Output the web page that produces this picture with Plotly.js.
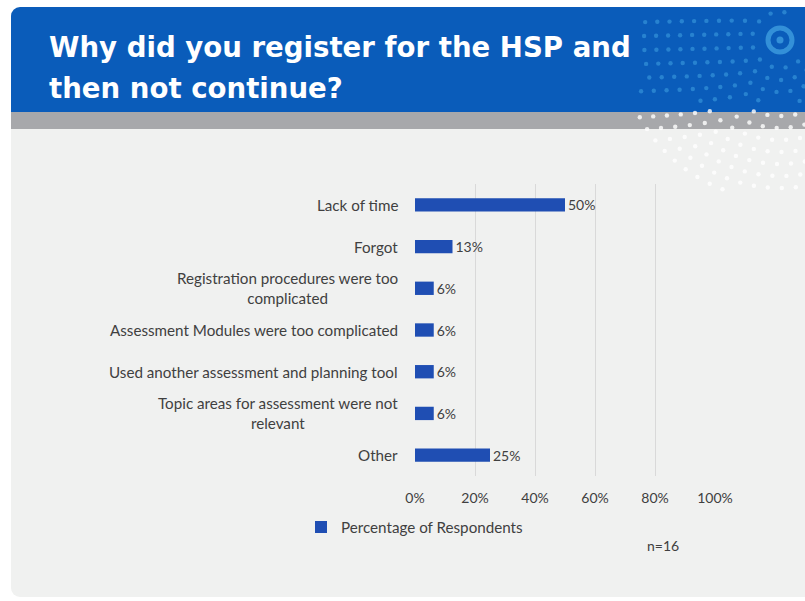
<!DOCTYPE html>
<html>
<head>
<meta charset="utf-8">
<script src="https://cdn.plot.ly/plotly-3.0.1.min.js"></script>
<style>
  html, body { margin: 0; padding: 0; background: #ffffff; }
  #stage { position: relative; width: 805px; height: 601px; overflow: hidden; }
  #panel { position: absolute; left: 11px; top: 7px; width: 820px; height: 590px;
           background: #f0f1f0; border-radius: 9px 0 0 9px; overflow: hidden; }
  #blue { position: absolute; left: 0; top: 0; width: 100%; height: 105px; background: #0a5cba; }
  #gray { position: absolute; left: 0; top: 105px; width: 100%; height: 17px; background: #a7a8ab; }
  #deco { position: absolute; left: 0; top: 0; }
  #chart { position: absolute; left: 0; top: 0; width: 805px; height: 601px; }
</style>
</head>
<body>
<div id="stage">
  <div id="panel"><div id="blue"></div><div id="gray"></div></div>
  <svg id="deco" width="805" height="601"></svg>
  <div id="chart"></div>
</div>
<script>
// ---- data ----
const categories = [
  "Lack of time",
  "Forgot",
  "Registration procedures were too<br>complicated",
  "Assessment Modules were too complicated",
  "Used another assessment and planning tool",
  "Topic areas for assessment were not<br>relevant",
  "Other"
];
const percentValues = [50, 12.5, 6.25, 6.25, 6.25, 6.25, 25];
const valueLabels = ["50%", "13%", "6%", "6%", "6%", "6%", "25%"];
const xTickValues = [0, 20, 40, 60, 80, 100];
const xTickLabels = ["0%", "20%", "40%", "60%", "80%", "100%"];
const seriesName = "Percentage of Respondents";
const titleLines = ["Why did you register for the HSP and", "then not continue?"];
const noteText = "n=16";

// ---- decorative dotted sunburst (background ornament) ----
(function () {
  const svg = document.getElementById('deco');
  const cx = 780, cy = 40;
  let html = '';
  for (let ring = 0; ring < 12; ring++) {
    const r = 28 + ring * 12;
    const step = 14 / r;               // roughly constant dot spacing along the arc
    const offset = (ring % 2) * step / 2;
    for (let a = Math.PI * 0.45 + offset; a < Math.PI * 1.75; a += step) {
      const x = cx + r * Math.cos(a);
      const y = cy - r * Math.sin(a);
      if (x < 638 || y < 10 || y > 192) continue;
      if (y > 101 && y < 109) continue;
      const fill = y < 105 ? 'rgba(55,150,220,0.65)' : 'rgba(255,255,255,0.8)';
      html += '<circle cx="' + x.toFixed(1) + '" cy="' + y.toFixed(1) + '" r="2.2" fill="' + fill + '"/>';
    }
  }
  html += '<circle cx="' + cx + '" cy="' + cy + '" r="12" fill="none" stroke="rgba(55,150,220,0.9)" stroke-width="5"/>';
  html += '<circle cx="' + cx + '" cy="' + cy + '" r="3.5" fill="rgba(55,150,220,0.9)"/>';
  svg.innerHTML = html;
})();

// ---- chart ----
const L = 415, R = 715, T = 184, B = 476;
const W = 805, H = 601;
const px2x = p => (p - L) / (R - L);
const px2y = p => (B - p) / (B - T);

const fam = "Lato, 'Open Sans', sans-serif";
const numFont = { family: fam, size: 14, color: '#404040' };
const catFont = { family: fam, size: 15.2, color: '#404040' };

const trace = {
  type: 'bar',
  orientation: 'h',
  x: percentValues,
  y: categories,
  name: seriesName,
  text: valueLabels,
  textposition: 'outside',
  constraintext: 'none',
  cliponaxis: false,
  textfont: numFont,
  marker: { color: '#1f4eb3', line: { width: 0 } },
  hoverinfo: 'skip',
  showlegend: true
};

const annotations = categories.map(c => ({
  xref: 'paper', yref: 'y', x: px2x(400), y: c,
  xanchor: 'right', yanchor: 'middle', align: 'center',
  text: c, showarrow: false, font: catFont
}));

const titleY = [48, 88];
titleLines.forEach((t, i) => annotations.push({
  xref: 'paper', yref: 'paper', x: px2x(47), y: px2y(titleY[i]),
  xanchor: 'left', yanchor: 'middle', align: 'left',
  text: '<b>' + t + '</b>', showarrow: false,
  font: { family: "'DejaVu Sans', Arial, sans-serif", size: 27.6, color: '#ffffff' }
}));
annotations.push({
  xref: 'paper', yref: 'paper', x: px2x(645), y: px2y(545),
  xanchor: 'left', yanchor: 'middle',
  text: noteText, showarrow: false, font: numFont
});

const layout = {
  width: W, height: H,
  margin: { l: L, r: W - R, t: T, b: H - B, pad: 0 },
  paper_bgcolor: 'rgba(0,0,0,0)',
  plot_bgcolor: 'rgba(0,0,0,0)',
  bargap: 0.68,
  showlegend: true,
  legend: {
    orientation: 'h', x: px2x(301), y: px2y(527), xanchor: 'left', yanchor: 'middle',
    bgcolor: 'rgba(0,0,0,0)', font: catFont, itemwidth: 30
  },
  xaxis: {
    range: [0, 100], tickvals: xTickValues, ticktext: xTickLabels,
    showgrid: true, gridcolor: '#d9d9d9', gridwidth: 1,
    zeroline: false, showline: false, ticks: '', ticklabelstandoff: 12,
    tickfont: numFont, fixedrange: true
  },
  yaxis: {
    type: 'category', autorange: 'reversed', showticklabels: false,
    showgrid: false, zeroline: false, showline: false, ticks: '', fixedrange: true
  },
  annotations: annotations,
  font: numFont
};

Plotly.newPlot('chart', [trace], layout, { displayModeBar: false, staticPlot: true });
</script>
</body>
</html>
